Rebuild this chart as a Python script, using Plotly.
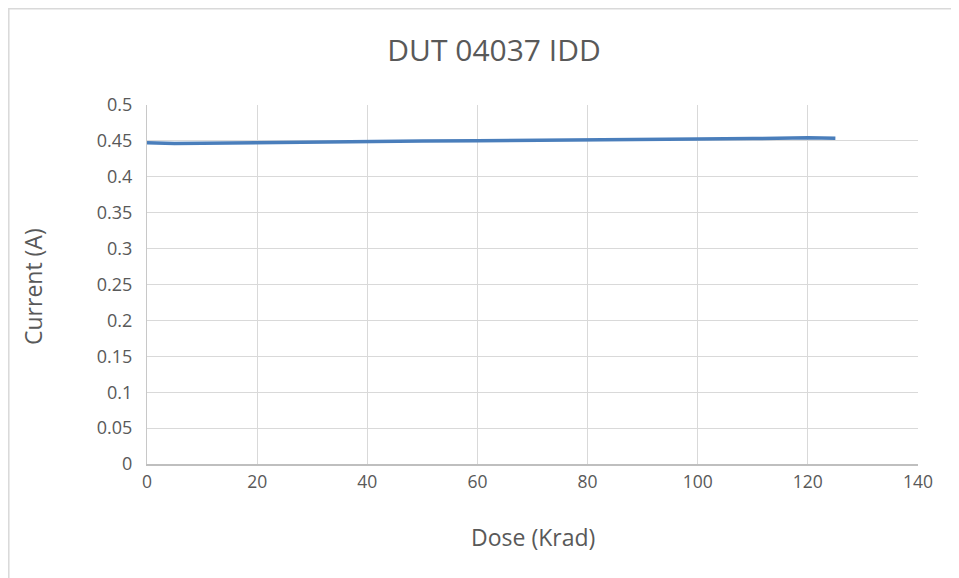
import plotly.graph_objects as go

dose = [0, 5, 10, 20, 30, 40, 50, 60, 70, 80, 90, 100, 110, 120, 125]
current = [0.4475, 0.4465, 0.4468, 0.4478, 0.4485, 0.4492, 0.4498, 0.4502,
           0.4505, 0.4512, 0.4518, 0.4525, 0.4532, 0.4545, 0.4538]

title_text = "DUT 04037 IDD"
x_title = "Dose (Krad)"
y_title = "Current (A)"

FONT = "Open Sans, Liberation Sans, Arial, sans-serif"
TXT = "#595959"

fig = go.Figure()
fig.add_trace(go.Scatter(x=dose, y=current, mode="lines",
                         line=dict(color="#4a7ebb", width=3.5), showlegend=False))

OFF = 8  # page body margin
W, H = 959 - OFF, 578 - OFF
L, R, T, B = 147, 918, 105, 464  # target page pixels

def px(xp):
    return (xp - L) / (R - L)

def py(yp):
    return (B - yp) / (B - T)

fig.update_layout(
    width=W, height=H,
    margin=dict(l=L - OFF, r=(W + OFF) - R, t=T - OFF, b=(H + OFF) - B),
    paper_bgcolor="white", plot_bgcolor="white",
    font=dict(family=FONT, color=TXT, size=16),
    title=dict(text=title_text, x=(494 - OFF) / W, xanchor="center",
               y=1 - (50 - OFF) / H, yanchor="middle",
               font=dict(size=30, color=TXT, family=FONT)),
    xaxis=dict(range=[0, 140], tick0=0, dtick=20, showgrid=True,
               gridcolor="#d9d9d9", gridwidth=1, zeroline=False,
               showline=True, linecolor="#bfbfbf", linewidth=2,
               ticks="", tickfont=dict(size=17.5, color=TXT), ticklabelstandoff=1),
    yaxis=dict(range=[0, 0.5], tick0=0, dtick=0.05, showgrid=True,
               gridcolor="#d9d9d9", gridwidth=1, zeroline=False,
               showline=True, linecolor="#c8c8c8", linewidth=1,
               ticks="", tickfont=dict(size=18, color=TXT),
               ticklabelstandoff=10),
    annotations=[
        dict(text=x_title, xref="paper", yref="paper",
             x=px(533), y=py(537),
             xanchor="center", yanchor="middle", showarrow=False,
             font=dict(size=23, color=TXT)),
        dict(text=y_title, xref="paper", yref="paper",
             x=px(33), y=py(287),
             xanchor="center", yanchor="middle", showarrow=False,
             textangle=-90, font=dict(size=23, color=TXT)),
    ],
    shapes=[
        dict(type="rect", xref="paper", yref="paper",
             x0=px(8.8), x1=px(1000),
             y0=py(620), y1=py(8.8),
             line=dict(color="#d9d9d9", width=1.5), fillcolor="rgba(0,0,0,0)",
             layer="below"),
    ],
)

fig.write_html("out.html")
